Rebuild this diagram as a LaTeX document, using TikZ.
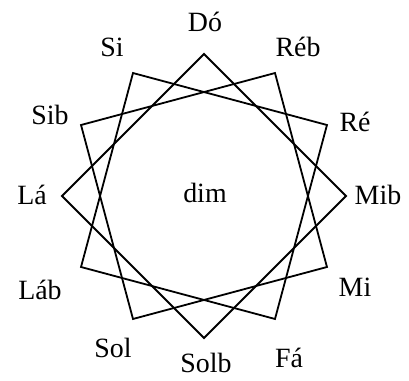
\documentclass[tikz,border=0pt]{standalone}
\usepackage{fontspec}
\setmainfont{Liberation Serif}
\usetikzlibrary{positioning}

\begin{document}
\begin{tikzpicture}[
  x=1bp, y=1bp,
  notelbl/.style = {font=\fontsize{28}{28}\selectfont, inner sep=0pt},
  chord/.style   = {draw=black, line width=1.8bp, line join=miter},
]

\useasboundingbox (-204,-185) rectangle (205,196);

%%═══════════════════════════════════════════════════════════
%% Twelve notes — corner points and names
%%═══════════════════════════════════════════════════════════

\foreach \nm/\px/\py [count=\i from 0] in
  {Dó/1/174, Réb/94/149, Ré/151/74, Mib/174/1,
   Mi/151/-91, Fá/85/-162, Solb/2/-167, Sol/-91/-152,
   Láb/-164/-94, Lá/-172/1, Sib/-154/81, Si/-92/149}
{
  \coordinate (v\i) at ({90-30*\i}:142);
  \node[notelbl] (n\i) at (\px,\py) {\nm};
}

\node[notelbl] (dim) at (1,3) {dim};

%%═══════════════════════════════════════════════════════════
%% Three diminished chords
%%═══════════════════════════════════════════════════════════

\draw[chord] (v0) -- (v3) -- (v6) -- (v9)  -- cycle;
\draw[chord] (v1) -- (v4) -- (v7) -- (v10) -- cycle;
\draw[chord] (v2) -- (v5) -- (v8) -- (v11) -- cycle;

\end{tikzpicture}
\end{document}
